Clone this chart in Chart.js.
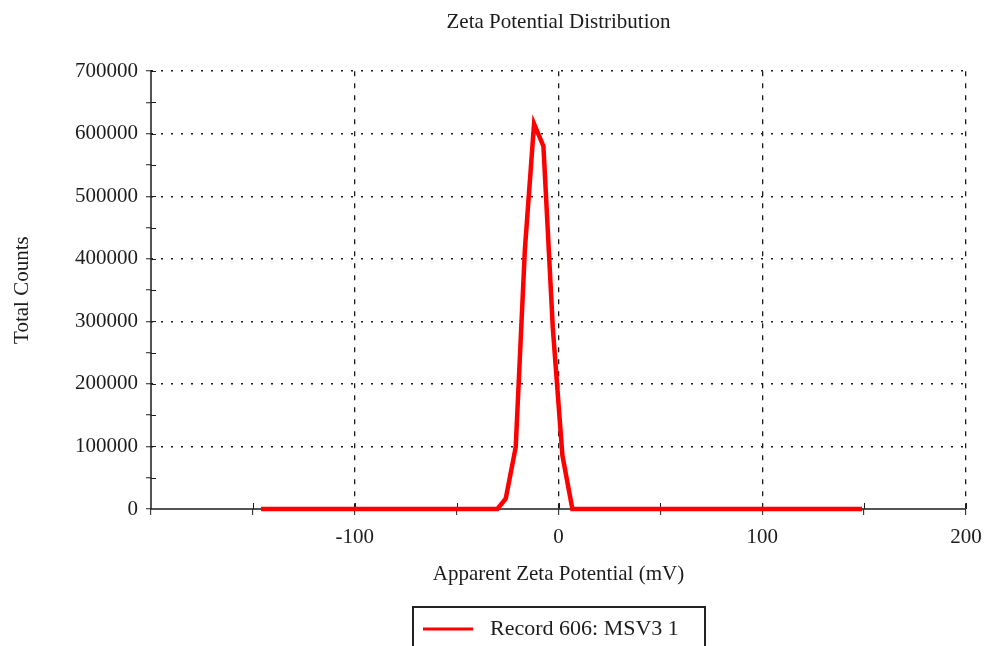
<!DOCTYPE html>
<html><head><meta charset="utf-8">
<script src="https://cdn.jsdelivr.net/npm/chart.js@4.4.0/dist/chart.umd.min.js"></script>
<style>html,body{margin:0;padding:0;background:#fff}#wrap{width:986px;height:646px;position:relative}</style>
</head><body><div id="wrap"><canvas id="c" width="986" height="646"></canvas></div>
<script>
// ---- data ----
const potentials = [-146, -30.0, -25.9, -21.0, -16.5, -12.0, -7.4, -2.8, 1.9, 6.8, 149];
const counts     = [0, 0, 16500, 99000, 415000, 616000, 580000, 290000, 86000, 0, 0];
const seriesLabel = 'Record 606: MSV3 1';
const chartTitle = 'Zeta Potential Distribution';
const xTitle = 'Apparent Zeta Potential (mV)';
const yTitle = 'Total Counts';
const xRange = [-200, 200];
const yRange = [0, 700000];

const FONT = "'Liberation Serif', 'Times New Roman', serif";
const INK = '#1c1c1c';

const extras = {
  id: 'extras',
  beforeDatasetsDraw(chart) {
    const ctx = chart.ctx, xs = chart.scales.x, ys = chart.scales.y, a = chart.chartArea;
    ctx.save();
    ctx.strokeStyle = INK; ctx.setLineDash([]);
    // solid axis lines
    ctx.lineWidth = 1.5;
    ctx.beginPath(); ctx.moveTo(a.left, a.top - 1); ctx.lineTo(a.left, a.bottom); ctx.lineTo(a.right, a.bottom); ctx.stroke();
    ctx.lineWidth = 1;
    xs.ticks.forEach(t => {
      if (t.value === xRange[0]) return;
      const px = Math.round(xs.getPixelForValue(t.value)) + 0.5;
      ctx.beginPath(); ctx.moveTo(px, a.bottom); ctx.lineTo(px, a.bottom - 6); ctx.stroke();
    });
    ys.ticks.forEach(t => {
      if (t.value === yRange[0]) return;
      const py = Math.round(ys.getPixelForValue(t.value)) + 0.5;
      ctx.beginPath(); ctx.moveTo(a.left, py); ctx.lineTo(a.left + 5, py); ctx.stroke();
    });
    ctx.restore();
  },
  afterDraw(chart) {
    const ctx = chart.ctx;
    const ds = chart.data.datasets[0];
    ctx.save();
    ctx.setLineDash([]);
    ctx.strokeStyle = '#222'; ctx.lineWidth = 2;
    ctx.strokeRect(413, 607, 292, 60);
    ctx.strokeStyle = ds.borderColor; ctx.lineWidth = 3;
    ctx.beginPath(); ctx.moveTo(423, 629); ctx.lineTo(473, 629); ctx.stroke();
    ctx.fillStyle = INK; ctx.font = "22px " + FONT; ctx.textBaseline = 'middle'; ctx.textAlign = 'left';
    ctx.fillText(ds.label, 490, 629);
    ctx.restore();
  }
};

new Chart(document.getElementById('c'), {
  type: 'line',
  data: {
    datasets: [{
      label: seriesLabel,
      data: potentials.map((x, i) => ({ x, y: counts[i] })),
      borderColor: '#ff0000',
      backgroundColor: '#ff0000',
      borderWidth: 4.5,
      pointRadius: 0,
      tension: 0,
      fill: false,
      clip: false
    }]
  },
  options: {
    responsive: false,
    animation: false,
    devicePixelRatio: 1,
    layout: { padding: { left: 0, right: 20, top: 0, bottom: 57 } },
    plugins: {
      legend: { display: false },
      tooltip: { enabled: false },
      title: {
        display: true, text: chartTitle, color: INK, fullSize: false,
        font: { family: FONT, size: 21, weight: 'normal', lineHeight: 1.2 },
        padding: { top: 9.5, bottom: 36.5 }
      }
    },
    scales: {
      x: {
        type: 'linear', min: xRange[0], max: xRange[1],
        afterFit(s) { s.height = 80; s.paddingRight = 0; s.paddingLeft = 0; },
        border: { display: false, dash: [5, 7] },
        grid: {
          color: c => (c.tick && c.tick.value % 100 === 0 && c.tick.value !== xRange[0]) ? INK : 'rgba(0,0,0,0)',
          tickColor: INK, tickLength: 6, tickBorderDash: [], lineWidth: 1.3, tickWidth: 1
        },
        ticks: {
          stepSize: 50, autoSkip: false, maxRotation: 0, color: INK, padding: 10,
          font: { family: FONT, size: 21 },
          callback: v => (v % 100 === 0 && v !== xRange[0]) ? String(v) : ''
        },
        title: {
          display: true, text: xTitle, color: INK,
          font: { family: FONT, size: 21, lineHeight: 1.2 },
          padding: { top: 0, bottom: 2 }
        }
      },
      y: {
        type: 'linear', min: yRange[0], max: yRange[1],
        afterFit(s) { s.width = 151; },
        border: { display: false, dash: [2, 8] },
        grid: {
          color: c => (c.tick && c.tick.value % 100000 === 0 && c.tick.value !== yRange[0]) ? INK : 'rgba(0,0,0,0)',
          tickColor: INK, tickLength: 5, tickBorderDash: [], lineWidth: 1.5, tickWidth: 1
        },
        ticks: {
          stepSize: 50000, autoSkip: false, color: INK, padding: 8,
          font: { family: FONT, size: 21 },
          callback: v => (v % 100000 === 0) ? String(v) : ''
        },
        title: {
          display: true, text: yTitle, color: INK,
          font: { family: FONT, size: 21, lineHeight: 1.2 },
          padding: { top: 9.4, bottom: 0 }
        }
      }
    }
  },
  plugins: [extras]
});
</script></body></html>
